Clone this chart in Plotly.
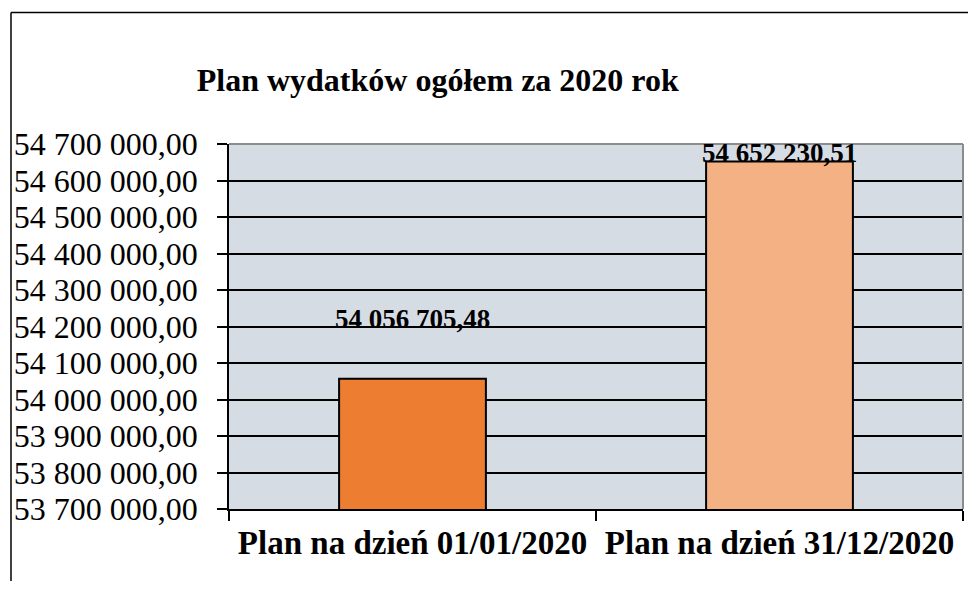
import plotly.graph_objects as go

categories = ["Plan na dzień 01/01/2020", "Plan na dzień 31/12/2020"]
values = [54056705.48, 54652230.51]
value_labels = ["54 056 705,48", "54 652 230,51"]
bar_colors = ["#ED7D31", "#F4B183"]
label_offsets = [60, 8]
y_tick_values = [53700000, 53800000, 53900000, 54000000, 54100000, 54200000,
                 54300000, 54400000, 54500000, 54600000, 54700000]
y_tick_labels = ["53 700 000,00", "53 800 000,00", "53 900 000,00", "54 000 000,00",
                 "54 100 000,00", "54 200 000,00", "54 300 000,00", "54 400 000,00",
                 "54 500 000,00", "54 600 000,00", "54 700 000,00"]
title_text = "Plan wydatków ogółem za 2020 rok"

FONT = "Liberation Serif"
W, H = 960, 573

fig = go.Figure()
fig.add_trace(go.Bar(
    x=categories, y=values,
    marker=dict(color=bar_colors, line=dict(color="black", width=2)),
    hoverinfo="skip", showlegend=False,
))

for cat, val, lab, off in zip(categories, values, value_labels, label_offsets):
    fig.add_annotation(x=cat, y=val, text="<b>" + lab + "</b>", showarrow=False,
                       yanchor="middle", yshift=off,
                       font=dict(family=FONT, size=27, color="black"))

# outer chart border (left and top edges visible)
fig.add_shape(type="line", xref="paper", yref="paper", x0=-0.297, x1=-0.297,
              y0=1.360, y1=-0.4, line=dict(color="black", width=1.5))
fig.add_shape(type="line", xref="paper", yref="paper", x0=-0.297, x1=1.2,
              y0=1.360, y1=1.360, line=dict(color="black", width=1.5))
# plot area border (gray)
fig.add_shape(type="line", xref="paper", yref="paper", x0=0, x1=1, y0=1, y1=1,
              line=dict(color="#8C8C8C", width=2), layer="above")
fig.add_shape(type="line", xref="paper", yref="paper", x0=1, x1=1, y0=0, y1=1,
              line=dict(color="#8C8C8C", width=2), layer="above")

fig.update_layout(
    width=W, height=H, autosize=False,
    margin=dict(l=221, r=5, t=136, b=72),
    paper_bgcolor="white", plot_bgcolor="#D6DCE4",
    bargap=0.6,
    title=dict(text="<b>" + title_text + "</b>", x=0.2844, xref="paper", xanchor="center",
               y=1 - 72 / H, yanchor="middle",
               font=dict(family=FONT, size=32, color="black")),
    xaxis=dict(type="category", tickson="boundaries", ticks="outside", ticklen=10,
               tickcolor="black", tickwidth=1.5, showline=True, linecolor="black",
               linewidth=1.5, showgrid=False,
               tickfont=dict(family=FONT, size=33, color="black", weight="bold"),
               ticklabelstandoff=4),
    yaxis=dict(range=[53700000, 54700000], tickvals=y_tick_values, ticktext=y_tick_labels,
               ticks="outside", ticklen=10, tickcolor="black", tickwidth=1.5,
               showgrid=True, gridcolor="black", gridwidth=1.5,
               showline=True, linecolor="black", linewidth=1.5, zeroline=False,
               tickfont=dict(family=FONT, size=32, color="black"),
               ticklabelstandoff=13),
)

fig.write_html("out.html")
